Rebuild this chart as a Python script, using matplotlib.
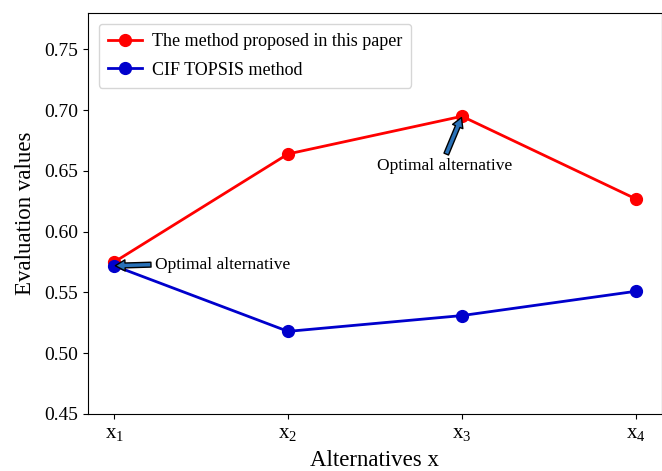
import matplotlib
matplotlib.use("Agg")
import matplotlib.pyplot as plt

categories = ["$\\mathrm{x}_1$", "$\\mathrm{x}_2$", "$\\mathrm{x}_3$", "$\\mathrm{x}_4$"]
proposed = [0.575, 0.664, 0.695, 0.627]
cif_topsis = [0.572, 0.518, 0.531, 0.551]
yticks = [0.45, 0.50, 0.55, 0.60, 0.65, 0.70, 0.75]

plt.rcParams['font.family'] = ['Liberation Serif', 'DejaVu Serif']
plt.rcParams['mathtext.fontset'] = 'custom'
plt.rcParams['mathtext.rm'] = 'Liberation Serif'
plt.rcParams['mathtext.it'] = 'Liberation Serif:italic'

fig = plt.figure(figsize=(6.62, 4.71), dpi=100)
ax = fig.add_axes([88/662, 1 - 414/471, 574/662, (414-13)/471])

x = list(range(len(categories)))
ax.plot(x, proposed, color='#ff0000', marker='o', markersize=8.5, linewidth=2,
        label='The method proposed in this paper')
ax.plot(x, cif_topsis, color='#0000cc', marker='o', markersize=8.5, linewidth=2,
        label='CIF TOPSIS method')

ax.set_xlim(-0.15, 3.15)
ax.set_ylim(0.45, 0.78)
ax.set_xticks(x)
ax.set_xticklabels(categories)
ax.set_yticks(yticks)
ax.set_yticklabels([f"{v:.2f}" for v in yticks])
ax.tick_params(labelsize=14)
ax.tick_params(axis='x', labelsize=15)
ax.set_xlabel('Alternatives x', fontsize=16.5, labelpad=5)
ax.set_ylabel('Evaluation values', fontsize=16.5, labelpad=6)

arrow = dict(facecolor='#2a72b8', edgecolor='black', width=3.5, headwidth=8,
             headlength=7, shrink=0.03)
ax.annotate('Optimal alternative', xy=(x[0], cif_topsis[0]),
            xytext=(0.235, 0.573), fontsize=12.5,
            va='center', ha='left', arrowprops=arrow)
ax.annotate('Optimal alternative', xy=(x[2], proposed[2]),
            xytext=(1.9, 0.654), fontsize=12.5,
            va='center', ha='center', arrowprops=arrow)

ax.legend(loc='upper left', fontsize=13, handlelength=1.9, handletextpad=0.55,
          borderpad=0.5, labelspacing=0.65, borderaxespad=0.6)

fig.savefig('out.png', dpi=100)
